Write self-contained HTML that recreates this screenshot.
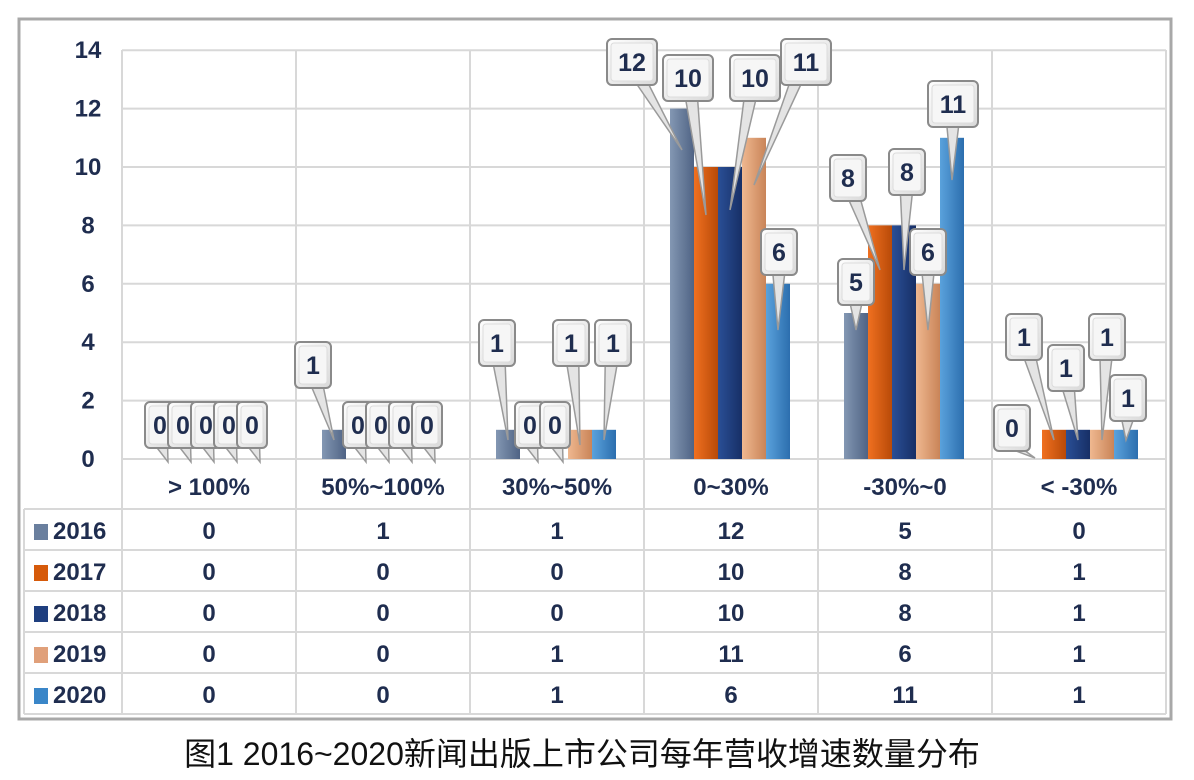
<!DOCTYPE html>
<html><head><meta charset="utf-8"><style>
body{margin:0;background:#fff;width:1194px;height:780px;overflow:hidden}
svg{display:block}
</style></head><body>
<svg id="s" width="1194" height="780" xmlns="http://www.w3.org/2000/svg">
<defs>
<linearGradient id="g0" x1="0" x2="1"><stop offset="0" stop-color="#8397b3"/><stop offset="1" stop-color="#4f6384"/></linearGradient>
<linearGradient id="g1" x1="0" x2="1"><stop offset="0" stop-color="#f07020"/><stop offset="1" stop-color="#b84a08"/></linearGradient>
<linearGradient id="g2" x1="0" x2="1"><stop offset="0" stop-color="#2a4f96"/><stop offset="1" stop-color="#172f66"/></linearGradient>
<linearGradient id="g3" x1="0" x2="1"><stop offset="0" stop-color="#efb890"/><stop offset="1" stop-color="#c98458"/></linearGradient>
<linearGradient id="g4" x1="0" x2="1"><stop offset="0" stop-color="#5aa2dc"/><stop offset="1" stop-color="#2c6eae"/></linearGradient>
<linearGradient id="cb" x1="0" y1="0" x2="1" y2="1"><stop offset="0" stop-color="#ffffff"/><stop offset="1" stop-color="#d8d8d8"/></linearGradient>
</defs>
<rect x="19" y="19" width="1152" height="700" fill="#fff" stroke="#a8a8a8" stroke-width="3"/>
<g id="grid" stroke="#d8d8d8" stroke-width="2" fill="none"></g>
<g id="bars"></g>
<g id="call"></g>
<g id="txt" font-family="Liberation Sans, DejaVu Sans, sans-serif" font-weight="bold" fill="#1f2d4f" font-size="24"></g>
<text x="582" y="765" text-anchor="middle" font-family="Liberation Sans, Noto Sans CJK SC, sans-serif" font-size="32" fill="#111">图1 2016~2020新闻出版上市公司每年营收增速数量分布</text>
</svg>
<script>
const NS="http://www.w3.org/2000/svg";
function el(p,t,a,tx){const e=document.createElementNS(NS,t);for(const k in a)e.setAttribute(k,a[k]);if(tx!==undefined)e.textContent=tx;document.getElementById(p).appendChild(e);return e;}
const X0=122,CW=174,Y0=459,U=29.2;
const cats=["> 100%","50%~100%","30%~50%","0~30%","-30%~0","< -30%"];
const data=[[0,1,1,12,5,0],[0,0,0,10,8,1],[0,0,0,10,8,1],[0,0,1,11,6,1],[0,0,1,6,11,1]];
const cols=["#6a7f9e","#d65a0a","#1f3f7f","#e0a07a","#3a86c8"];
for(let i=0;i<=7;i++){const y=Y0-i*2*U;el("grid","line",{x1:X0,x2:1166,y1:y,y2:y});el("txt","text",{x:88,y:y+8,"text-anchor":"middle"},i*2);}
for(let i=0;i<=6;i++){el("grid","line",{x1:X0+i*CW,x2:X0+i*CW,y1:50,y2:714});}
el("grid","line",{x1:24,x2:1166,y1:509,y2:509});
for(let r=1;r<=5;r++){el("grid","line",{x1:24,x2:1166,y1:509+r*41,y2:509+r*41});}
el("grid","line",{x1:24,x2:24,y1:509,y2:714});
for(let s=0;s<5;s++)for(let c=0;c<6;c++){const v=data[s][c];if(!v)continue;const x=X0+c*CW+26+s*24;el("bars","rect",{x:x,y:Y0-v*U,width:24,height:v*U,fill:"url(#g"+s+")"});}
cats.forEach((c,i)=>el("txt","text",{x:X0+i*CW+87,y:495,"text-anchor":"middle"},c));
const yrs=["2016","2017","2018","2019","2020"];
yrs.forEach((y,r)=>{const cy=539+r*41;el("bars","rect",{x:34,y:cy-15,width:14,height:16,fill:cols[r]});el("txt","text",{x:53,y:cy},y);
data[r].forEach((v,c)=>el("txt","text",{x:X0+c*CW+87,y:cy,"text-anchor":"middle"},v));});
function bc(c,s){return X0+c*CW+26+s*24+12;}
const C=[];
for(let s=0;s<5;s++){C.push(["0",160+s*23,425,168+s*23,462,22]);}
C.push(["1",313,365,bc(1,0),440,28]);
for(let s=1;s<5;s++)C.push(["0",358+(s-1)*23,425,366+(s-1)*23,462,22]);
C.push(["1",497,343,bc(2,0),440,28]);C.push(["0",530,425,538,462,22]);C.push(["0",555,425,563,462,22]);
C.push(["1",571,343,bc(2,3),445,28]);C.push(["1",613,343,bc(2,4),440,28]);
C.push(["12",632,62,bc(3,0),150,42]);C.push(["10",688,78,bc(3,1),215,42]);C.push(["10",755,78,bc(3,2),210,42]);C.push(["11",806,62,bc(3,3),185,42]);C.push(["6",779,252,bc(3,4),330,28]);
C.push(["8",848,178,bc(4,1),270,28]);C.push(["5",856,282,bc(4,0),330,28]);C.push(["8",907,172,bc(4,2),270,28]);C.push(["6",928,252,bc(4,3),330,28]);C.push(["11",953,104,bc(4,4),180,42]);
C.push(["0",1012,428,1035,458,28]);C.push(["1",1024,337,bc(5,1),440,28]);C.push(["1",1066,368,bc(5,2),440,28]);C.push(["1",1107,337,bc(5,3),440,28]);C.push(["1",1128,398,bc(5,4),440,28]);
C.forEach(([t,cx,cy,tx,ty,w])=>{const h=46;const bx=cx-w/2-4,by=cy-h/2;
const dx=tx-cx;const px=Math.max(bx+4,Math.min(bx+w+4,cx+dx*0.2));
el("call","polygon",{points:`${px-6},${by+h-2} ${px+6},${by+h-2} ${tx},${ty}`,fill:"#e4e4e4",stroke:"#9a9a9a","stroke-width":1.5});
el("call","rect",{x:bx,y:by,width:w+8,height:h,rx:5,fill:"url(#cb)",stroke:"#8a8a8a","stroke-width":2});
el("call","rect",{x:bx+4,y:by+4,width:w,height:h-8,rx:3,fill:"#f6f6f6",stroke:"#dcdcdc","stroke-width":1});
el("call","text",{x:cx,y:cy+9,"text-anchor":"middle","font-family":"Liberation Sans, sans-serif","font-weight":"bold","font-size":25,fill:"#1f2d4f"},t);});
</script>
</body></html>
